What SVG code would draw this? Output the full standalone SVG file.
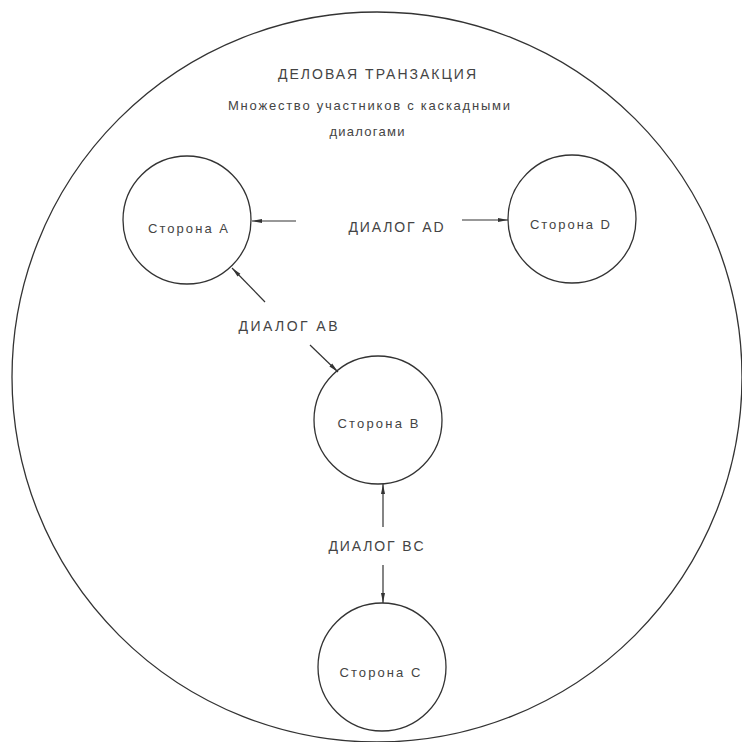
<svg xmlns="http://www.w3.org/2000/svg" width="742" height="742" viewBox="0 0 742 742">
<defs>
<marker id="ah" viewBox="0 0 10 6" refX="10" refY="3" markerWidth="10" markerHeight="6" markerUnits="userSpaceOnUse" orient="auto">
<path d="M0,1 L10,3 L0,5 Z" fill="#333"/>
</marker>
</defs>
<style>
.c{fill:none;stroke:#333;stroke-width:1.3}
.t{font-family:"Liberation Sans",Arial,sans-serif;font-size:14px;fill:#444;text-anchor:middle}
.s{font-size:13px}
.e{stroke:#333;stroke-width:1.2;fill:none;marker-end:url(#ah)}
</style>
<rect width="742" height="742" fill="#fff"/>
<g id="transaction">
<circle class="c" cx="377" cy="377" r="365"/>
<text class="t" x="377" y="79" textLength="198" lengthAdjust="spacing">ДЕЛОВАЯ ТРАНЗАКЦИЯ</text>
<text class="t s" x="369" y="110" textLength="282" lengthAdjust="spacing">Множество участников с каскадными</text>
<text class="t s" x="367" y="136" textLength="75" lengthAdjust="spacing">диалогами</text>
</g>
<g id="partyA">
<circle class="c" cx="187" cy="220" r="64"/>
<text class="t s" x="188" y="233" textLength="80" lengthAdjust="spacing">Сторона A</text>
</g>
<g id="partyD">
<circle class="c" cx="572" cy="219" r="64"/>
<text class="t s" x="570" y="229" textLength="80" lengthAdjust="spacing">Сторона D</text>
</g>
<g id="partyB">
<circle class="c" cx="378" cy="420" r="64"/>
<text class="t s" x="378" y="428" textLength="81" lengthAdjust="spacing">Сторона B</text>
</g>
<g id="partyC">
<circle class="c" cx="382" cy="667" r="64"/>
<text class="t s" x="380" y="677" textLength="81" lengthAdjust="spacing">Сторона C</text>
</g>
<g id="connectors">
<line class="e" x1="296" y1="221" x2="252" y2="221"/>
<line class="e" x1="462" y1="220" x2="508" y2="220"/>
<line class="e" x1="265" y1="302" x2="232" y2="268"/>
<line class="e" x1="310" y1="345" x2="338" y2="372"/>
<line class="e" x1="383" y1="527" x2="383" y2="484"/>
<line class="e" x1="383" y1="565" x2="383" y2="603"/>
<text class="t" x="396" y="232" textLength="95" lengthAdjust="spacing">ДИАЛОГ AD</text>
<text class="t" x="288" y="331" textLength="99" lengthAdjust="spacing">ДИАЛОГ  AB</text>
<text class="t" x="376" y="551" textLength="95" lengthAdjust="spacing">ДИАЛОГ BC</text>
</g>
</svg>
